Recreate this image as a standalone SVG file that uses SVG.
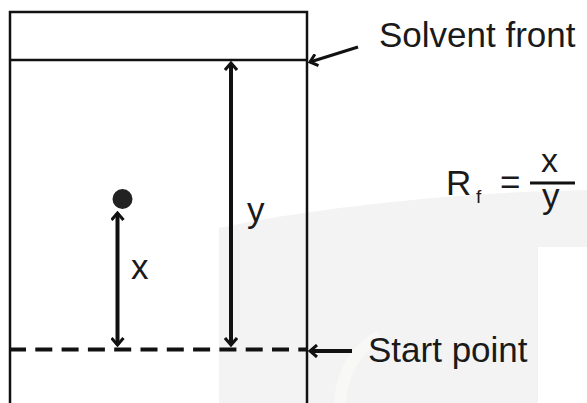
<svg xmlns="http://www.w3.org/2000/svg" width="587" height="403" viewBox="0 0 587 403">
  <style>
    .t { font-family: "Liberation Sans", Arial, sans-serif; fill: #1a1a1a; }
    .ln { stroke: #111; fill: none; }
  </style>
  <defs>
    <marker id="head" viewBox="0 0 14 14" refX="12" refY="7" markerWidth="14" markerHeight="14" markerUnits="userSpaceOnUse" orient="auto-start-reverse">
      <path d="M5,1 L12,7 L5,13" fill="none" stroke="#111" stroke-width="3"/>
    </marker>
  </defs>
  <rect width="587" height="403" fill="#ffffff"/>
  <g id="watermark">
    <path d="M219,228 C300,210 450,192 587,190 L587,403 L219,403 Z" fill="#f3f3f3"/>
    <rect x="538" y="247" width="49" height="156" fill="#ffffff"/>
    <path d="M340,403 C342,372 356,348 380,336" fill="none" stroke="#f8f8f6" stroke-width="12"/>
  </g>
  <g id="plate">
    <rect x="10" y="12" width="297" height="400" class="ln" stroke-width="2.5"/>
    <line x1="10" y1="60" x2="307" y2="60" class="ln" stroke-width="2.5"/>
  </g>
  <g id="start-line">
    <line x1="9" y1="349.5" x2="307" y2="349.5" class="ln" stroke-width="4" stroke-dasharray="17 9.3"/>
  </g>
  <g id="spot">
    <circle cx="122.5" cy="199" r="10" fill="#222"/>
  </g>
  <g id="connectors">
    <line x1="117.5" y1="213" x2="117.5" y2="345" class="ln" stroke-width="4" marker-start="url(#head)" marker-end="url(#head)"/>
    <line x1="231" y1="63" x2="231" y2="345" class="ln" stroke-width="4" marker-start="url(#head)" marker-end="url(#head)"/>
    <line x1="358" y1="47" x2="310" y2="62" class="ln" stroke-width="3" marker-end="url(#head)"/>
    <line x1="352" y1="351" x2="310" y2="351" class="ln" stroke-width="4" marker-end="url(#head)"/>
  </g>
  <g id="labels">
    <text class="t" x="131" y="279" font-size="35">x</text>
    <text class="t" x="247" y="222" font-size="35">y</text>
    <text class="t" x="379" y="47" font-size="35">Solvent front</text>
    <text class="t" x="368" y="362" font-size="35">Start point</text>
  </g>
  <g id="formula">
    <text class="t" x="446" y="195" font-size="35">R</text>
    <text class="t" x="476" y="203" font-size="19">f</text>
    <text class="t" x="500" y="194" font-size="35">=</text>
    <line x1="530" y1="183" x2="575" y2="183" class="ln" stroke-width="3"/>
    <text class="t" x="541" y="172" font-size="34">x</text>
    <text class="t" x="542" y="208" font-size="35">y</text>
  </g>
</svg>
